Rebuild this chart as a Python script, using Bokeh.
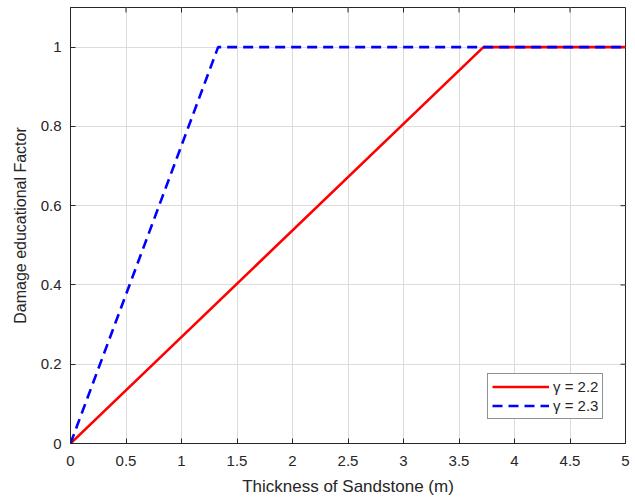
from bokeh.plotting import figure
from bokeh.models import FixedTicker, Legend, LegendItem, Range1d
from bokeh.embed import file_html
from bokeh.resources import INLINE

# Damage factor vs sandstone thickness for two gamma values
thickness_22 = [0.0, 3.72, 5.0]
damage_22 = [0.0, 1.0, 1.0]
thickness_23 = [0.0, 1.33, 5.0]
damage_23 = [0.0, 1.0, 1.0]

x_ticks = [0, 0.5, 1, 1.5, 2, 2.5, 3, 3.5, 4, 4.5, 5]
y_ticks = [0, 0.2, 0.4, 0.6, 0.8, 1]

X_MIN, X_MAX = 0, 5
Y_MIN, Y_MAX = 0, 1.1

AX = "#262626"
FONT = "Liberation Sans"

p = figure(width=635, height=499, output_backend="svg", toolbar_location=None,
           x_range=Range1d(X_MIN, X_MAX), y_range=Range1d(Y_MIN, Y_MAX),
           min_border_left=70, min_border_right=10, min_border_top=7, min_border_bottom=56)
p.background_fill_color = "white"
p.border_fill_color = "white"
p.outline_line_color = AX
p.outline_line_width = 1

def style_axis(ax, ticks, label_size):
    ax.ticker = FixedTicker(ticks=ticks)
    ax.axis_line_color = AX
    ax.major_tick_line_color = AX
    ax.major_tick_in = 5
    ax.major_tick_out = 0
    ax.minor_tick_line_color = None
    ax.major_label_text_font = FONT
    ax.major_label_text_color = AX
    ax.major_label_overrides = {t: "%g" % t for t in ticks}
    ax.major_label_text_font_size = "15px"
    ax.axis_label_text_font = FONT
    ax.axis_label_text_color = AX
    ax.axis_label_text_font_style = "normal"
    ax.axis_label_text_font_size = label_size

style_axis(p.xaxis[0], x_ticks, "17px")
style_axis(p.yaxis[0], y_ticks, "16px")
p.xaxis[0].axis_label = "Thickness of Sandstone (m)"
p.yaxis[0].axis_label = "Damage educational Factor"
p.xaxis[0].major_label_standoff = 12
p.yaxis[0].major_label_standoff = 9
p.xaxis[0].axis_label_standoff = 8
p.yaxis[0].axis_label_standoff = 9

# inward ticks on the top and right edges of the box
tick_len_y = 5 * (Y_MAX - Y_MIN) / 436
tick_len_x = 5 * (X_MAX - X_MIN) / 555
p.segment(x0=x_ticks, x1=x_ticks, y0=[Y_MAX] * len(x_ticks),
          y1=[Y_MAX - tick_len_y] * len(x_ticks), line_color=AX, line_width=1)
p.segment(x0=[X_MAX] * len(y_ticks), x1=[X_MAX - tick_len_x] * len(y_ticks),
          y0=y_ticks, y1=y_ticks, line_color=AX, line_width=1)

p.xgrid.ticker = FixedTicker(ticks=x_ticks)
p.ygrid.ticker = FixedTicker(ticks=y_ticks)
p.grid.grid_line_color = "#dcdcdc"
p.grid.grid_line_width = 1

r1 = p.line(thickness_22, damage_22, line_color="#ff0000", line_width=2.6)
r2 = p.line(thickness_23, damage_23, line_color="#0000ff", line_width=2.6, line_dash="10 6")

legend = Legend(items=[LegendItem(label="\u03b3 = 2.2", renderers=[r1]),
                       LegendItem(label="\u03b3 = 2.3", renderers=[r2])],
                location=(417, 24))
legend.border_line_color = AX
legend.border_line_width = 1
legend.background_fill_color = "white"
legend.label_text_font = FONT
legend.label_text_font_size = "15px"
legend.label_text_color = AX
legend.glyph_width = 57
legend.glyph_height = 15
legend.label_standoff = 4
legend.spacing = 2
legend.padding = 4
legend.margin = 0
legend.label_height = 15
p.add_layout(legend, "center")

open("out.html", "w").write(file_html(p, INLINE))
